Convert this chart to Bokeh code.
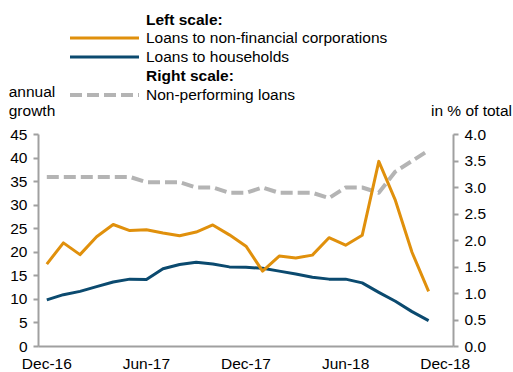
from bokeh.plotting import figure
from bokeh.layouts import column
from bokeh.models import (Range1d, LinearAxis, FixedTicker, NumeralTickFormatter,
                          ColumnDataSource, Div)
from bokeh.embed import file_html
from bokeh.resources import INLINE

# ---- data ----
months = ["Dec-16", "Jan-17", "Feb-17", "Mar-17", "Apr-17", "May-17", "Jun-17",
          "Jul-17", "Aug-17", "Sep-17", "Oct-17", "Nov-17", "Dec-17",
          "Jan-18", "Feb-18", "Mar-18", "Apr-18", "May-18", "Jun-18",
          "Jul-18", "Aug-18", "Sep-18", "Oct-18", "Nov-18", "Dec-18"]
tick_labels = ["Dec-16", "Jun-17", "Dec-17", "Jun-18", "Dec-18"]
nfc_loans = [17.5, 22.0, 19.5, 23.3, 25.9, 24.6, 24.8, 24.1, 23.5, 24.3, 25.8, 23.7,
             21.3, 16.0, 19.2, 18.8, 19.4, 23.1, 21.5, 23.6, 39.3, 31.0, 20.0, 11.7]
household_loans = [9.9, 11.0, 11.7, 12.7, 13.7, 14.3, 14.2, 16.5, 17.4, 17.9, 17.5, 16.9,
                   16.8, 16.6, 16.0, 15.4, 14.7, 14.3, 14.3, 13.5, 11.5, 9.6, 7.4, 5.5]
npl_share = [3.2, 3.2, 3.2, 3.2, 3.2, 3.2, 3.1, 3.1, 3.1, 3.0, 3.0, 2.9,
             2.9, 3.0, 2.9, 2.9, 2.9, 2.8, 3.0, 3.0, 2.9, 3.3, 3.5, 3.7]
left_ticks = [0, 5, 10, 15, 20, 25, 30, 35, 40, 45]
right_ticks = [0.0, 0.5, 1.0, 1.5, 2.0, 2.5, 3.0, 3.5, 4.0]
series_names = ["Loans to non-financial corporations", "Loans to households",
                "Non-performing loans"]

ORANGE = "#E0900C"
BLUE = "#0B4A6F"
GRAY = "#B4B4B4"
AXIS = "#A0A0A0"
FONT = "Liberation Sans"
FS = "15.5px"

W = 513
HEADER_H = 124

# ---------------- main chart ----------------
idx = list(range(len(nfc_loans)))
src = ColumnDataSource(dict(x=idx, nfc=nfc_loans, hh=household_loans, npl=npl_share))

p = figure(frame_width=415, frame_height=212, output_backend="svg", toolbar_location=None,
           x_range=Range1d(-0.5, len(months) - 0.5), y_range=Range1d(0, 45),
           min_border_left=38, min_border_right=60, min_border_top=10,
           min_border_bottom=26)
p.outline_line_color = None
p.xgrid.visible = False
p.ygrid.visible = False
p.background_fill_color = "white"
p.border_fill_color = "white"

p.extra_y_ranges = {"npl": Range1d(0, 4)}

def style_axis(ax):
    ax.axis_line_color = AXIS
    ax.axis_line_width = 2
    ax.major_tick_line_color = AXIS
    ax.major_tick_line_width = 2
    ax.minor_tick_line_color = None
    ax.major_label_text_font = FONT
    ax.major_label_text_font_size = FS
    ax.major_label_text_color = "black"
    ax.axis_label_standoff = 0

xa = p.xaxis[0]
style_axis(xa)
xa.ticker = FixedTicker(ticks=[months.index(t) for t in tick_labels])
xa.major_label_overrides = {months.index(t): t for t in tick_labels}
xa.major_tick_out = 0
xa.major_tick_in = 0
xa.major_label_standoff = 8

ya = p.yaxis[0]
style_axis(ya)
ya.ticker = FixedTicker(ticks=left_ticks)
ya.major_tick_out = 5
ya.major_tick_in = 0
ya.major_label_standoff = 6

ra = LinearAxis(y_range_name="npl")
style_axis(ra)
ra.ticker = FixedTicker(ticks=right_ticks)
ra.formatter = NumeralTickFormatter(format="0.0")
ra.major_tick_out = 5
ra.major_tick_in = 0
ra.major_label_standoff = 6
p.add_layout(ra, "right")

p.line("x", "npl", source=src, y_range_name="npl", line_color=GRAY,
       line_width=4, line_dash="12 5", line_join="round")
p.line("x", "hh", source=src, line_color=BLUE, line_width=3, line_join="round")
p.line("x", "nfc", source=src, line_color=ORANGE, line_width=3, line_join="round")

# ---------------- header (legend + axis titles) ----------------
def txt(cy, content, left=None, right=None, center=None, bold=False):
    pos = ""
    if center is not None:
        pos = f"left:{center - 40}px;width:80px;text-align:center;"
    elif right is not None:
        pos = f"right:{W - right}px;text-align:right;"
    else:
        pos = f"left:{left}px;"
    weight = "bold" if bold else "normal"
    return (f'<div style="position:absolute;top:{cy - 10}px;height:20px;line-height:20px;'
            f'white-space:nowrap;font-weight:{weight};{pos}">{content}</div>')

svg = (f'<svg width="{W}" height="{HEADER_H}" style="position:absolute;left:0;top:0">'
       f'<line x1="70" y1="38" x2="139" y2="38" stroke="{ORANGE}" stroke-width="3"/>'
       f'<line x1="70" y1="57" x2="139" y2="57" stroke="{BLUE}" stroke-width="3"/>'
       f'<line x1="70" y1="95" x2="139" y2="95" stroke="{GRAY}" stroke-width="4" '
       f'stroke-dasharray="12 5"/></svg>')

html = (f'<div style="position:relative;width:{W}px;height:{HEADER_H}px;'
        f"font-family:'{FONT}';font-size:{FS};color:black;\">"
        + svg
        + txt(20, "Left scale:", left=146, bold=True)
        + txt(38, series_names[0], left=146)
        + txt(57, series_names[1], left=146)
        + txt(76, "Right scale:", left=146, bold=True)
        + txt(95, series_names[2], left=146)
        + txt(91.5, "annual", center=32)
        + txt(111, "growth", center=32)
        + txt(111, "in % of total", right=512)
        + "</div>")

header = Div(text=html, width=W, height=HEADER_H, margin=0)

layout = column(header, p, spacing=0)
open("out.html", "w").write(file_html(layout, INLINE))
